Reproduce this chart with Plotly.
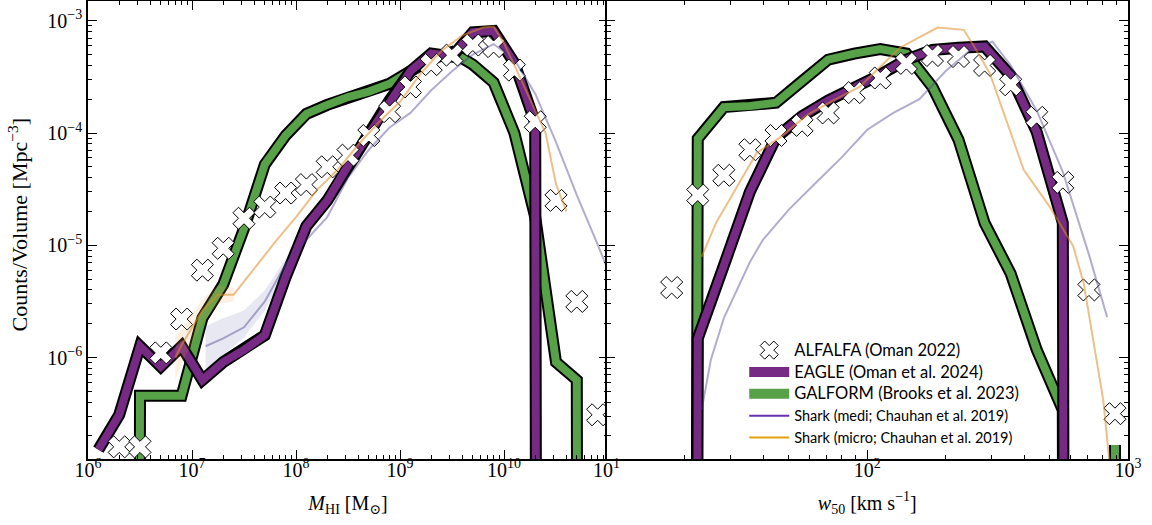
import plotly.graph_objects as go
from plotly.subplots import make_subplots

EMPTY = 1e-100  # empty bins (zero counts) -> clipped far below the axis, as on a log plot

# ---------------- Left panel: HI mass function ----------------
alfalfa_logM = [6.3, 6.5, 6.7, 6.9, 7.1, 7.3, 7.5, 7.7, 7.9, 8.1, 8.3, 8.5,
                8.7, 8.9, 9.1, 9.3, 9.5, 9.7, 9.9, 10.1, 10.3, 10.5, 10.7, 10.9]
alfalfa_mhi = [1.6e-7, 1.6e-7, 1.1e-6, 2.2e-6, 6.0e-6, 9.4e-6, 1.74e-5, 2.19e-5,
               2.92e-5, 3.47e-5, 5.0e-5, 6.35e-5, 9.5e-5, 1.55e-4, 2.57e-4, 4.07e-4,
               4.94e-4, 6.08e-4, 5.89e-4, 3.63e-4, 1.26e-4, 2.51e-5, 3.16e-6, 3.09e-7]

eagle_logM = [6.1, 6.3, 6.5, 6.7, 6.9, 7.1, 7.3, 7.5, 7.7, 7.9, 8.1, 8.3, 8.5,
              8.7, 8.9, 9.1, 9.3, 9.5, 9.7, 9.9, 10.1, 10.3, 10.5]
eagle_mhi = [1.51e-7, 3.09e-7, 1.26e-6, 8.3e-7, 1.26e-6, 6.3e-7, 9.1e-7, 1.17e-6,
             1.58e-6, 5.2e-6, 1.48e-5, 2.5e-5, 5.1e-5, 9.8e-5, 1.95e-4, 3.55e-4,
             5.1e-4, 4.8e-4, 7.9e-4, 8.1e-4, 4.2e-4, 1.23e-4, EMPTY]

galform_logM = [6.3, 6.5, 6.7, 6.9, 7.1, 7.3, 7.5, 7.7, 7.9, 8.1, 8.3, 8.5, 8.7,
                8.9, 9.1, 9.3, 9.5, 9.7, 9.9, 10.1, 10.3, 10.5, 10.7, 10.9]
galform_mhi = [EMPTY, 4.57e-7, 4.57e-7, 4.57e-7, 2.24e-6, 4.47e-6, 1.41e-5, 5.25e-5,
               9.5e-5, 1.48e-4, 1.78e-4, 2.09e-4, 2.34e-4, 2.75e-4, 3.55e-4, 4.57e-4,
               5.25e-4, 4.07e-4, 2.82e-4, 1.0e-4, 1.78e-5, 9.1e-7, 6.3e-7, EMPTY]

shark_medi_logM = [7.13, 7.3, 7.5, 7.7, 7.9, 8.1, 8.3, 8.5, 8.7, 8.9, 9.1, 9.3,
                   9.5, 9.7, 9.9, 10.1, 10.3, 10.5, 10.7, 10.9, 11.1]
shark_medi_mhi = [1.26e-6, 1.48e-6, 1.86e-6, 3.16e-6, 6.8e-6, 1.12e-5, 1.78e-5,
                  4.0e-5, 7.1e-5, 1.12e-4, 1.51e-4, 2.4e-4, 3.55e-4, 5.0e-4,
                  6.2e-4, 4.5e-4, 2.24e-4, 8.3e-5, 2.8e-5, 1.02e-5, 3.5e-6]
shark_medi_band_logM = [7.13, 7.3, 7.5, 7.7, 7.9]
shark_medi_band_lo = [7.9e-7, 1.05e-6, 1.51e-6, 2.63e-6, 6.0e-6]
shark_medi_band_hi = [1.9e-6, 2.24e-6, 2.63e-6, 3.98e-6, 7.6e-6]

shark_micro_logM = [6.84, 6.9, 7.1, 7.25, 7.4, 7.6, 7.8, 8.0, 8.2, 8.4, 8.6, 8.8,
                    9.0, 9.2, 9.4, 9.6, 9.8, 9.9, 10.0, 10.1, 10.3, 10.4, 10.5, 10.6]
shark_micro_mhi = [1.0e-6, 1.29e-6, 2.63e-6, 3.63e-6, 3.63e-6, 6.3e-6, 1.07e-5,
                   1.78e-5, 3.1e-5, 4.7e-5, 7.9e-5, 1.26e-4, 1.9e-4, 3.4e-4,
                   5.4e-4, 7.4e-4, 8.7e-4, 8.9e-4, 6.3e-4, 4.0e-4, 1.58e-4,
                   1.0e-4, 3.5e-5, 2.0e-5]
shark_micro_band_logM = [6.84, 6.9, 7.1, 7.25, 7.4]
shark_micro_band_lo = [6.3e-7, 8.9e-7, 2.0e-6, 3.0e-6, 3.16e-6]
shark_micro_band_hi = [1.58e-6, 1.78e-6, 3.3e-6, 4.37e-6, 4.17e-6]

# ---------------- Right panel: w50 velocity width function ----------------
alfalfa_logw = [1.25, 1.35, 1.45, 1.55, 1.65, 1.75, 1.85, 1.95, 2.05, 2.15, 2.25,
                2.35, 2.45, 2.55, 2.65, 2.75, 2.85, 2.95]
alfalfa_w50 = [4.2e-6, 2.8e-5, 4.2e-5, 7.1e-5, 9.5e-5, 1.17e-4, 1.51e-4, 2.29e-4,
               3.09e-4, 4.17e-4, 4.9e-4, 4.8e-4, 4.0e-4, 2.69e-4, 1.38e-4,
               3.63e-5, 4.0e-6, 3.16e-7]

eagle_logw = [1.25, 1.35, 1.45, 1.55, 1.65, 1.75, 1.85, 1.95, 2.05, 2.15, 2.25,
              2.35, 2.45, 2.55, 2.65, 2.75, 2.85]
eagle_w50 = [EMPTY, 1.48e-6, 6.6e-6, 3.0e-5, 9.1e-5, 1.41e-4, 1.95e-4, 2.5e-4,
             3.3e-4, 4.5e-4, 5.5e-4, 5.75e-4, 5.9e-4, 3.24e-4, 1.02e-4, 1.58e-5, EMPTY]

galform_logw = [1.25, 1.35, 1.45, 1.55, 1.65, 1.75, 1.85, 1.95, 2.05, 2.15, 2.25,
                2.35, 2.45, 2.55, 2.65, 2.75, 2.85, 2.95, 3.05]
galform_w50 = [EMPTY, 8.9e-5, 1.70e-4, 1.74e-4, 1.86e-4, 2.9e-4, 4.5e-4, 5.1e-4,
               5.6e-4, 5.1e-4, 2.57e-4, 8.7e-5, 1.58e-5, 5.6e-6, 1.17e-6, 3.4e-7,
               EMPTY, 1.66e-7, EMPTY]

shark_medi_logw = [1.365, 1.40, 1.45, 1.50, 1.55, 1.60, 1.70, 1.80, 1.90, 2.00,
                   2.10, 2.20, 2.30, 2.40, 2.48, 2.55, 2.65, 2.75, 2.85, 2.92]
shark_medi_w50 = [3.4e-7, 9.5e-7, 2.24e-6, 4.0e-6, 7.1e-6, 1.12e-5, 2.09e-5,
                  3.55e-5, 6.0e-5, 1.07e-4, 1.51e-4, 2.0e-4, 3.55e-4, 5.6e-4,
                  6.5e-4, 4.0e-4, 1.58e-4, 4.5e-5, 8.3e-6, 2.29e-6]

shark_micro_logw = [1.365, 1.42, 1.50, 1.575, 1.664, 1.77, 1.87, 1.97, 2.125,
                    2.27, 2.37, 2.41, 2.47, 2.60, 2.70, 2.79, 2.83, 2.905, 2.93]
shark_micro_w50 = [7.9e-6, 1.58e-5, 3.3e-5, 6.6e-5, 9.1e-5, 1.45e-4, 1.95e-4,
                   2.57e-4, 5.75e-4, 8.7e-4, 8.3e-4, 5.9e-4, 3.4e-4, 4.7e-5,
                   2.2e-5, 9.8e-6, 4.6e-6, 4.2e-7, 1.1e-7]

# ---------------- labels ----------------
legend_names = ["ALFALFA (Oman 2022)", "EAGLE (Oman et al. 2024)",
                "GALFORM (Brooks et al. 2023)",
                "Shark (medi; Chauhan et al. 2019)",
                "Shark (micro; Chauhan et al. 2019)"]
y_title = "Counts/Volume [Mpc<sup>−3</sup>]"
xl_title = "<i>M</i><sub>HI</sub> [M<sub>⊙</sub>]"
xr_title = "<i>w</i><sub>50</sub> [km s<sup>−1</sup>]"
y_tick_vals = [1e-6, 1e-5, 1e-4, 1e-3]
y_tick_text = ["10<sup>−6</sup>", "10<sup>−5</sup>", "10<sup>−4</sup>", "10<sup>−3</sup>"]
xl_tick_vals = [1e6, 1e7, 1e8, 1e9, 1e10]
xl_tick_text = ["10<sup>6</sup>", "10<sup>7</sup>", "10<sup>8</sup>", "10<sup>9</sup>",
                "10<sup>10</sup>"]
xr_tick_vals = [10, 100, 1000]
xr_tick_text = ["10<sup>1</sup>", "10<sup>2</sup>", "10<sup>3</sup>"]

EAGLE_C = "#762a83"
GALFORM_C = "#57a148"
MEDI_LINE = "rgba(70,60,140,0.42)"
MICRO_LINE = "rgba(222,140,40,0.55)"
MEDI_BAND = "rgba(110,110,175,0.16)"
MICRO_BAND = "rgba(235,160,80,0.16)"
MEDI_LEG = "#6a2fb0"
MICRO_LEG = "#e0a010"

def pw(vals):
    return [10 ** v for v in vals]

fig = make_subplots(rows=1, cols=2, shared_yaxes=True, horizontal_spacing=0)

def add_thick(x, y, color, col):
    fig.add_trace(go.Scatter(x=x, y=y, mode="lines", line=dict(color="black", width=12),
                             showlegend=False, hoverinfo="skip"), row=1, col=col)
    fig.add_trace(go.Scatter(x=x, y=y, mode="lines", line=dict(color=color, width=8),
                             showlegend=False), row=1, col=col)

def add_band(x, lo, hi, color, col):
    fig.add_trace(go.Scatter(x=x, y=lo, mode="lines", line=dict(width=0),
                             showlegend=False, hoverinfo="skip"), row=1, col=col)
    fig.add_trace(go.Scatter(x=x, y=hi, mode="lines", line=dict(width=0), fill="tonexty",
                             fillcolor=color, showlegend=False, hoverinfo="skip"),
                  row=1, col=col)

def add_cross(x, y, col):
    fig.add_trace(go.Scatter(x=x, y=y, mode="markers",
                             marker=dict(symbol="x", size=19.5, color="white",
                                         line=dict(color="black", width=1)),
                             showlegend=False), row=1, col=col)

# left
add_thick(pw(galform_logM), galform_mhi, GALFORM_C, 1)
add_thick(pw(eagle_logM), eagle_mhi, EAGLE_C, 1)
add_cross(pw(alfalfa_logM), alfalfa_mhi, 1)
add_band(pw(shark_medi_band_logM), shark_medi_band_lo, shark_medi_band_hi, MEDI_BAND, 1)
add_band(pw(shark_micro_band_logM), shark_micro_band_lo, shark_micro_band_hi, MICRO_BAND, 1)
fig.add_trace(go.Scatter(x=pw(shark_medi_logM), y=shark_medi_mhi, mode="lines",
                         line=dict(color=MEDI_LINE, width=2), showlegend=False), row=1, col=1)
fig.add_trace(go.Scatter(x=pw(shark_micro_logM), y=shark_micro_mhi, mode="lines",
                         line=dict(color=MICRO_LINE, width=2), showlegend=False), row=1, col=1)

# right
add_thick(pw(galform_logw), galform_w50, GALFORM_C, 2)
add_thick(pw(eagle_logw), eagle_w50, EAGLE_C, 2)
add_cross(pw(alfalfa_logw), alfalfa_w50, 2)
fig.add_trace(go.Scatter(x=pw(shark_medi_logw), y=shark_medi_w50, mode="lines",
                         line=dict(color=MEDI_LINE, width=2), showlegend=False), row=1, col=2)
fig.add_trace(go.Scatter(x=pw(shark_micro_logw), y=shark_micro_w50, mode="lines",
                         line=dict(color=MICRO_LINE, width=2), showlegend=False), row=1, col=2)

# legend entries
BIG = '<span style="font-size:16.5px">'
SMALL = '<span style="font-size:14.5px">'
fig.add_trace(go.Scatter(x=[None], y=[None], mode="markers", name=BIG + legend_names[0] + "</span>",
                         marker=dict(symbol="x", size=16, color="white",
                                     line=dict(color="black", width=1))), row=1, col=2)
fig.add_trace(go.Scatter(x=[None], y=[None], mode="lines", name=BIG + legend_names[1] + "</span>",
                         line=dict(color=EAGLE_C, width=10)), row=1, col=2)
fig.add_trace(go.Scatter(x=[None], y=[None], mode="lines", name=BIG + legend_names[2] + "</span>",
                         line=dict(color=GALFORM_C, width=10)), row=1, col=2)
fig.add_trace(go.Scatter(x=[None], y=[None], mode="lines", name=SMALL + legend_names[3] + "</span>",
                         line=dict(color=MEDI_LEG, width=2)), row=1, col=2)
fig.add_trace(go.Scatter(x=[None], y=[None], mode="lines", name=SMALL + legend_names[4] + "</span>",
                         line=dict(color=MICRO_LEG, width=2)), row=1, col=2)

SERIF = "Liberation Serif, DejaVu Serif, serif"
axis_common = dict(type="log", showline=True, linecolor="black", linewidth=1.5,
                   mirror="allticks", ticks="inside", ticklen=9, tickwidth=1.2,
                   tickcolor="black", showgrid=False, zeroline=False, automargin=False,
                   tickfont=dict(family=SERIF, size=20, color="black"))

def minor_vals(e0, e1):
    return [m * 10 ** e for e in range(e0, e1) for m in range(2, 10)]

OVERLAP = 1.5 / 1040  # make the two panels share one border line

fig.update_xaxes(**axis_common, range=[6, 11], tickvals=xl_tick_vals, ticktext=xl_tick_text,
                 domain=[0, 0.5], ticklabelstandoff=-8,
                 minor=dict(tickvals=minor_vals(6, 11), ticks="inside", ticklen=4.5,
                            tickwidth=1, tickcolor="black"),
                 title=dict(text=xl_title,
                            font=dict(family=SERIF, size=20, color="black"), standoff=16),
                 row=1, col=1)
fig.update_xaxes(**axis_common, range=[1, 3], tickvals=xr_tick_vals, ticktext=xr_tick_text,
                 domain=[0.5 - OVERLAP, 1], ticklabelstandoff=-8,
                 minor=dict(tickvals=minor_vals(1, 3), ticks="inside", ticklen=4.5,
                            tickwidth=1, tickcolor="black"),
                 title=dict(text=xr_title,
                            font=dict(family=SERIF, size=20, color="black"), standoff=16),
                 row=1, col=2)
fig.update_yaxes(**axis_common, range=[-6.904, -2.824], tickvals=y_tick_vals,
                 ticktext=y_tick_text,
                 minor=dict(tickvals=minor_vals(-7, -2), ticks="inside", ticklen=4.5,
                            tickwidth=1, tickcolor="black"))
fig.update_yaxes(showticklabels=False, row=1, col=2)

# y-axis title, centred on the panel height beside the tick labels
fig.add_annotation(text=y_title, xref="paper", yref="paper", x=-70 / 1040, y=0.51,
                   xanchor="center", yanchor="middle", textangle=-90, showarrow=False,
                   font=dict(family=SERIF, size=22, color="black"))

fig.update_layout(
    width=1152, height=525,
    margin=dict(l=88, r=24, t=1, b=66),
    paper_bgcolor="white", plot_bgcolor="white",
    legend=dict(x=0.631, y=0.2725, xanchor="left", yanchor="top",
                bgcolor="rgba(0,0,0,0)", borderwidth=0, itemwidth=40,
                traceorder="normal",
                font=dict(family="Lato, Open Sans, sans-serif", size=14.5, color="black"),
                tracegroupgap=0, itemsizing="trace"),
    showlegend=True,
)

# remove the browser's default 8px page margin so the figure sits at the window origin
fig.write_html("out.html", config={"displayModeBar": False},
               post_script="document.body.style.margin='0';")
